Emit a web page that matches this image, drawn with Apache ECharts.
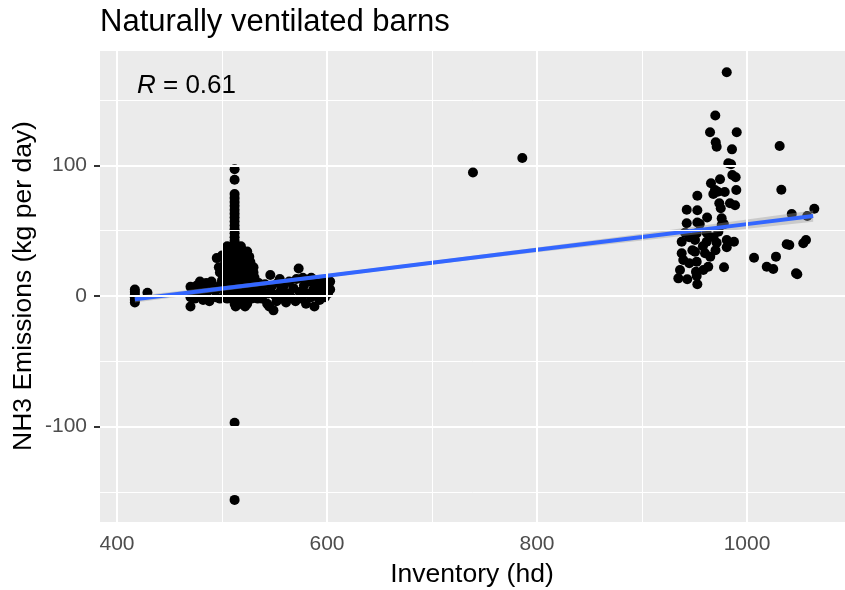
<!DOCTYPE html>
<html>
<head>
<meta charset="utf-8">
<script src="https://cdn.jsdelivr.net/npm/echarts@6/dist/echarts.min.js"></script>
<style>html,body{margin:0;padding:0;background:#fff}#c{width:845px;height:590px}</style>
</head>
<body>
<div id="c"></div>
<script>
// ---------- DATA ----------
const titleText = 'Naturally ventilated barns';
const xTitle = 'Inventory (hd)';
const yTitle = 'NH3 Emissions (kg per day)';
const corrLabel = '0.61';

const xTicks = [400, 600, 800, 1000];
const xMinorGrid = [500, 700, 900];
const yTicks = [-100, 0, 100];
const yMinorGrid = [-150, -50, 50, 150];

// small-herd edge (x ~ 417-429)
const edgeX = [417, 417, 417, 417, 417, 417, 429];
const edgeY = [5, 3, 1, -1, -3, -5, 2.5];

// vertical spike at ~512 hd
const spikeX = [512, 512, 512, 512, 512, 512, 512, 512, 512, 512, 512, 512, 512, 512, 512, 512, 512, 512, 512, 512, 512, 512, 512, 512, 512, 512, 512, 512, 512, 512, 512];
const spikeY = [97, 89, 78, 75, 72, 69, 66, 63, 60, 57, 54, 51, 48, 45, 42, 39, 36, 33, 30, 27, 24, 21, 18, 15, 12, 9, 6, 3, 0, -97, -156];

// blob around the spike
const blobX = [505, 518, 505, 510, 518, 524, 503, 508, 516, 521, 526, 503, 508, 516, 521, 527, 504, 509, 516, 521, 527, 530, 503, 508, 515, 520, 525, 530, 502, 507, 515, 520, 526, 531, 503, 508, 515, 520, 525, 530, 535, 503, 508, 515, 520, 526, 531, 536, 503, 508, 515, 520, 525, 530, 537, 505, 510, 516, 522, 528, 534, 512, 518, 524, 513, 522];
const blobY = [38, 38, 34, 34, 34, 34, 30, 30, 30, 30, 30, 26, 26, 26, 26, 26, 22, 22, 22, 22, 22, 22, 18, 18, 18, 18, 18, 18, 14, 14, 14, 14, 14, 14, 10, 10, 10, 10, 10, 10, 10, 6, 6, 6, 6, 6, 6, 6, 2, 2, 2, 2, 2, 2, 2, -2, -2, -2, -2, -2, -2, -6, -6, -6, -8, -8];

// left part of the main cluster (470-500 hd)
const leftX = [470, 470, 470, 474, 475, 479, 479, 482, 485, 485, 488, 490, 491, 494, 495, 498, 500, 498, 495, 500, 497, 498, 476, 482];
const leftY = [7, -1, -8, -2, 4, 11, 3, -3, 10, 2, -4, 11, 5, -1, 5, -2, 12, 8, 29, 31, 22, 18, 8, 6];

// right part of the main cluster (535-605 hd)
const rightX = [538, 538, 541, 543, 544, 546, 547, 549, 550, 552, 553, 556, 557, 559, 561, 562, 564, 566, 568, 570, 571, 573, 574, 576, 578, 580, 581, 583, 585, 587, 588, 590, 591, 593, 595, 596, 598, 600, 601, 603, 603, 555, 545, 577, 585, 597];
const rightY = [4, -2, 9, -6, 2, 16, 7, -11, 1, -4, 10, 4, -2, 8, -5, 2, 11, -1, 6, -4, 13, 21, 3, -2, 8, -6, 2, 11, -1, 5, -8, 10, 1, -3, 7, 3, -1, 9, 2, 11, 5, 13, -8, 14, 14, 12];

// isolated mid-size barns
const midX = [739, 786];
const midY = [94.5, 105.6];

// large barns (930-1065 hd)
const largeX = [980.7, 969.8, 964.8, 990.2, 970.2, 971.1, 985.7, 1031.1, 982.2, 984.8, 986.0, 989.2, 974.3, 965.7, 989.8, 978.8, 969.5, 952.7, 1032.7, 967.9, 972.1, 973.6, 983.8, 988.6, 942.6, 952.7, 975.0, 1042.6, 1064.1, 1057.4, 942.6, 952.7, 975.9, 975.9, 941.0, 952.1, 961.6, 972.7, 937.8, 950.5, 961.6, 971.1, 980.7, 987.6, 980.7, 937.8, 950.5, 960.0, 939.3, 952.1, 963.1, 978.1, 936.2, 951.4, 958.4, 934.6, 943.1, 952.1, 952.7, 1037.8, 1040.3, 1053.6, 1056.2, 1006.7, 1027.6, 1018.8, 1025.0, 1046.7, 1047.9, 945, 958, 965, 968, 955, 945, 962, 978, 948, 970];
const largeY = [171.2, 138.1, 125.3, 125.3, 117.6, 114.2, 112.2, 114.8, 101.5, 100.8, 92.6, 90.8, 89.3, 86.2, 81.1, 79.6, 81.1, 76.7, 81.3, 78.0, 79.8, 70.9, 70.9, 69.4, 66.0, 65.6, 67.1, 62.7, 66.8, 61.2, 55.6, 56.2, 59.4, 54.3, 48.4, 48.0, 48.4, 49.2, 41.5, 42.8, 41.5, 40.8, 42.8, 41.5, 37.3, 32.7, 33.9, 32.7, 27.5, 26.2, 22.4, 22.0, 19.9, 18.6, 19.9, 13.5, 12.8, 15.3, 9.0, 39.6, 39.0, 40.3, 42.8, 29.3, 30.1, 22.4, 20.7, 17.4, 16.6, 45, 38, 30, 45, 55, 25, 60, 55, 35, 35];

// linear fit with confidence band
const fitX = [417, 500, 600, 700, 800, 900, 1000, 1063];
const fitY = [-2.5, 5.7, 15.5, 25.4, 35.3, 45.1, 55.0, 61.2];
const bandLo = [-5.0, 3.9, 14.2, 24.1, 33.5, 42.5, 51.4, 56.9];
const bandHi = [0.0, 7.5, 16.8, 26.7, 37.1, 47.7, 58.6, 65.5];

// ---------- CHART ----------
const FONT = '"Liberation Sans", Arial, sans-serif';
const pair = (xs, ys) => xs.map((x, i) => [x, ys[i]]);
const allPoints = [].concat(
  pair(edgeX, edgeY), pair(leftX, leftY), pair(blobX, blobY),
  pair(rightX, rightY), pair(spikeX, spikeY), pair(midX, midY), pair(largeX, largeY)
);

const chart = echarts.init(document.getElementById('c'), null, { renderer: 'canvas' });

const gridLine = (arr, key, width) => arr.map(v => ({ [key]: v, lineStyle: { color: '#FFFFFF', width: width, type: 'solid' } }));

chart.setOption({
  animation: false,
  backgroundColor: '#FFFFFF',
  textStyle: { fontFamily: FONT },
  grid: { left: 100, right: 0, top: 51, bottom: 68, show: true, backgroundColor: '#EBEBEB', borderWidth: 0, containLabel: false, outerBoundsMode: 'none' },
  title: {
    text: titleText, left: 95, top: 2,
    textStyle: { fontFamily: FONT, fontSize: 31, fontWeight: 'normal', color: '#000000' }
  },
  xAxis: {
    type: 'value', min: 383.81, max: 1093.33,
    axisLine: { show: false },
    axisTick: { show: true, customValues: xTicks, length: 6, lineStyle: { color: '#333333', width: 2 } },
    axisLabel: { customValues: xTicks, margin: 12, fontSize: 21, color: '#4D4D4D', fontFamily: FONT, formatter: v => String(v) },
    splitLine: { show: false }
  },
  yAxis: {
    type: 'value', min: -172.92, max: 187.45,
    axisLine: { show: false },
    axisTick: { show: true, customValues: yTicks, length: 6, lineStyle: { color: '#333333', width: 2 } },
    axisLabel: { customValues: yTicks, margin: 13, fontSize: 21, color: '#4D4D4D', fontFamily: FONT, formatter: v => String(v) },
    splitLine: { show: false }
  },
  graphic: [
    { type: 'text', z: 10, position: [472, 575], style: { text: xTitle, font: '26.5px ' + FONT, fill: '#000', textAlign: 'center', textVerticalAlign: 'middle' } },
    { type: 'text', z: 10, position: [24, 286], rotation: Math.PI / 2, style: { text: yTitle, font: '26.5px ' + FONT, fill: '#000', textAlign: 'center', textVerticalAlign: 'middle' } },
    { type: 'text', z: 10, position: [137, 86], style: {
        text: '{i|R} = ' + corrLabel,
        rich: { i: { fontStyle: 'italic', fontSize: 26, fontFamily: FONT, fill: '#000' } },
        font: '26px ' + FONT, fill: '#000', textAlign: 'left', textVerticalAlign: 'middle' } }
  ],
  series: [
    {
      type: 'scatter', data: [], z: 1, silent: true,
      markLine: {
        silent: true, symbol: ['none', 'none'], label: { show: false }, animation: false,
        data: [].concat(
          gridLine(xMinorGrid, 'xAxis', 1), gridLine(yMinorGrid, 'yAxis', 1),
          gridLine(xTicks, 'xAxis', 2), gridLine(yTicks, 'yAxis', 2)
        )
      }
    },
    {
      type: 'scatter', data: allPoints, z: 2, symbol: 'circle', symbolSize: 10,
      itemStyle: { color: '#000000', opacity: 1 }, silent: true
    },
    {
      type: 'custom', z: 3, silent: true, data: [[fitX[0], fitY[0]]],
      renderItem: function (params, api) {
        const pts = [];
        for (let i = 0; i < fitX.length; i++) pts.push(api.coord([fitX[i], bandHi[i]]));
        for (let i = fitX.length - 1; i >= 0; i--) pts.push(api.coord([fitX[i], bandLo[i]]));
        return { type: 'polygon', shape: { points: pts }, style: { fill: 'rgba(153,153,153,0.4)' } };
      }
    },
    {
      type: 'line', z: 4, silent: true, data: pair(fitX, fitY), showSymbol: false, symbol: 'none',
      lineStyle: { color: '#3366FF', width: 4 }
    }
  ]
});
</script>
</body>
</html>
